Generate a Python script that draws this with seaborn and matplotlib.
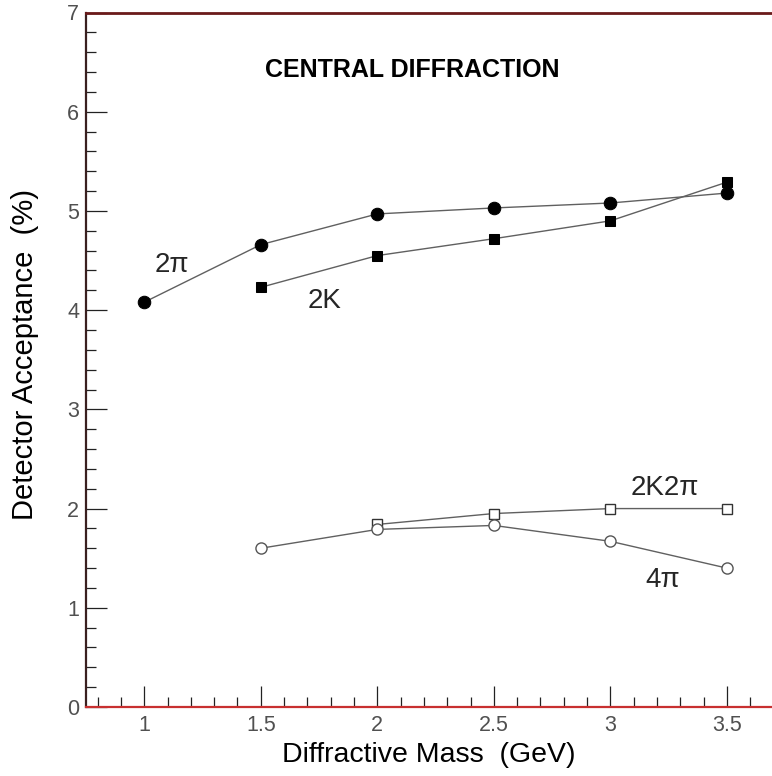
import numpy as np
import pandas as pd
import matplotlib
matplotlib.use("Agg")
import matplotlib.pyplot as plt
from matplotlib.ticker import MultipleLocator, FixedLocator
import seaborn as sns

sns.set_theme(style="white")
plt.rcParams['font.family'] = ['Liberation Sans', 'DejaVu Sans']

mass_2pi = [1.0, 1.5, 2.0, 2.5, 3.0, 3.5]
acc_2pi = [4.08, 4.66, 4.97, 5.03, 5.08, 5.18]

mass_2k = [1.5, 2.0, 2.5, 3.0, 3.5]
acc_2k = [4.23, 4.55, 4.72, 4.90, 5.29]

mass_2k2pi = [2.0, 2.5, 3.0, 3.5]
acc_2k2pi = [1.84, 1.95, 2.0, 2.0]

mass_4pi = [1.5, 2.0, 2.5, 3.0, 3.5]
acc_4pi = [1.60, 1.79, 1.83, 1.67, 1.40]

x_ticks = [1, 1.5, 2, 2.5, 3, 3.5]
x_tick_labels = ["1", "1.5", "2", "2.5", "3", "3.5"]
y_ticks = [0, 1, 2, 3, 4, 5, 6, 7]

fig = plt.figure(figsize=(7.72, 7.76), dpi=100)
ax = fig.add_axes([86/772, 1-707/776, 1-86/772, (707-12.5)/776])

line_kw = dict(color="#606060", linewidth=1.0)
sns.lineplot(x=mass_2pi, y=acc_2pi, ax=ax, marker="o", markersize=9,
             markerfacecolor="black", markeredgecolor="black", **line_kw)
sns.lineplot(x=mass_2k, y=acc_2k, ax=ax, marker="s", markersize=7.5,
             markerfacecolor="black", markeredgecolor="black", **line_kw)
sns.lineplot(x=mass_2k2pi, y=acc_2k2pi, ax=ax, marker="s", markersize=7.5,
             markerfacecolor="white", markeredgecolor="#333333",
             markeredgewidth=1.0, **line_kw)
sns.lineplot(x=mass_4pi, y=acc_4pi, ax=ax, marker="o", markersize=8,
             markerfacecolor="white", markeredgecolor="#555555",
             markeredgewidth=1.0, **line_kw)

ax.set_xlim(0.75, 3.6935)
ax.set_ylim(0, 7)

ax.xaxis.set_major_locator(FixedLocator(x_ticks))
ax.set_xticklabels(x_tick_labels)
ax.xaxis.set_minor_locator(MultipleLocator(0.1))
ax.yaxis.set_major_locator(FixedLocator(y_ticks))
ax.yaxis.set_minor_locator(MultipleLocator(0.2))

ax.tick_params(axis="both", which="major", direction="in", length=15,
               width=0.9, color="#222222", labelsize=15.5, labelcolor="#505050")
ax.tick_params(axis="both", which="minor", direction="in", length=7.5,
               width=0.9, color="#222222")
ax.tick_params(axis="x", which="major", pad=6)
ax.tick_params(axis="y", which="major", pad=5)
ax.tick_params(bottom=True, left=True, top=False, right=False, which="both")

ax.spines["right"].set_visible(False)
ax.spines["top"].set_color("#6a1a1a")
ax.spines["top"].set_linewidth(2.0)
ax.spines["bottom"].set_color("#c83030")
ax.spines["bottom"].set_linewidth(1.6)
ax.spines["left"].set_color("#3a2020")
ax.spines["left"].set_linewidth(1.6)

ax.set_xlabel("Diffractive Mass  (GeV)", fontsize=20.5, color="black", labelpad=4)
ax.set_ylabel("Detector Acceptance  (%)", fontsize=21, color="black", labelpad=13)
ax.yaxis.set_label_coords(-0.068, 0.507)

ax.text(2.15, 6.42, "CENTRAL DIFFRACTION", fontsize=18, fontweight="bold",
        ha="center", va="center", color="black")
ax.text(1.12, 4.46, "2π", fontsize=20, ha="center", va="center")
ax.text(1.774, 4.09, "2K", fontsize=20, ha="center", va="center")
ax.text(3.235, 2.21, "2K2π", fontsize=20, ha="center", va="center")
ax.text(3.224, 1.28, "4π", fontsize=20, ha="center", va="center")

fig.savefig("out.png", dpi=100)
